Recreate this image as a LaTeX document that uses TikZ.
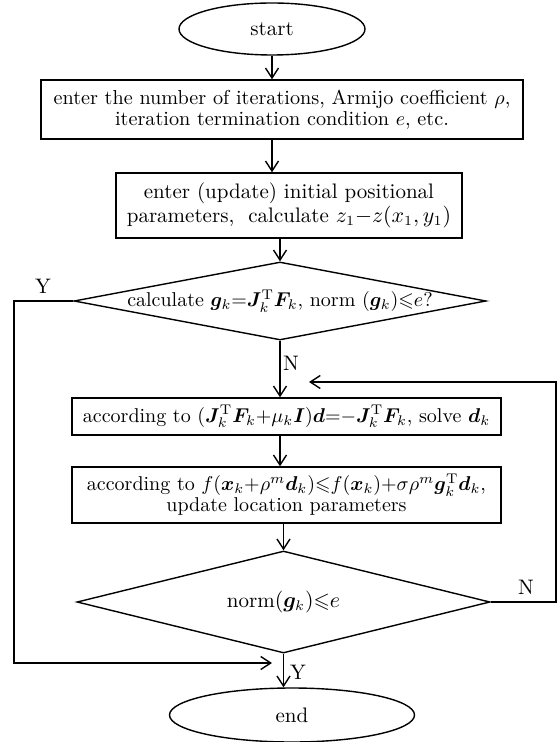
\documentclass[tikz,border=0pt]{standalone}
\usepackage{amsmath, amssymb, bm}
\usepackage{tikz}
\usetikzlibrary{shapes.geometric, arrows.meta}

\begin{document}
\begin{tikzpicture}[x=0.5pt, y=-0.5pt,
        every node/.style={font=\fontsize{10.5}{10.5}\selectfont, align=center, inner sep=0pt},
        mathtext/.style={font=\fontsize{10}{10.5}\selectfont},
        term/.style={ellipse, draw, line width=0.7pt},
        proc/.style={rectangle, draw, line width=0.7pt},
        test/.style={diamond, draw, line width=0.7pt, aspect=5.3, inner xsep=-4pt},
        arr/.style={line width=0.7pt, -{Straight Barb[length=5pt, width=6.5pt]}}]
                \useasboundingbox (0,0) rectangle (558,742);
                % terminals and steps
                \node[term, minimum width=93pt, minimum height=26pt] (start) at (272,29) {start};
                \node[proc, font=\fontsize{10.1}{10.5}\selectfont, minimum width=241pt, minimum height=29.5pt] (enter) at (282,109.5)
                    {enter the number of iterations, Armijo coefficient $\rho$,\\ iteration termination condition $e$, etc.};
                \node[proc, minimum width=173pt, minimum height=32.5pt] (init) at (289,205.5)
                    {enter (update) initial positional\\ parameters,\ \ calculate $z_1{-}z(x_1,y_1)$};
                \node[test, mathtext, minimum width=206pt, minimum height=39pt] (grad) at (280,301)
                    {calculate $\bm{g}_k{=}\bm{J}_k^{\mathrm{T}}\bm{F}_k$, norm $(\bm{g}_k){\leqslant}e$?};
                \node[proc, mathtext, minimum width=214.5pt, minimum height=18.5pt] (solve) at (286.5,416.5)
                    {according to $(\bm{J}_k^{\mathrm{T}}\bm{F}_k{+}\mu_k\bm{I})\bm{d}{=}{-}\bm{J}_k^{\mathrm{T}}\bm{F}_k$, solve $\bm{d}_k$};
                \node[proc, mathtext, minimum width=214.5pt, minimum height=28pt] (update) at (286.5,495)
                    {according to $f(\bm{x}_k{+}\rho^m\bm{d}_k){\leqslant}f(\bm{x}_k){+}\sigma\rho^m\bm{g}_k^{\mathrm{T}}\bm{d}_k$,\\ update location parameters};
                \node[test, minimum width=206.5pt, minimum height=51pt] (stop) at (283.5,602)
                    {norm$(\bm{g}_k){\leqslant}e$};
                \node[term, minimum width=122.5pt, minimum height=27pt] (end) at (292,715) {end};
                % branch labels
                \node (y1) at (43,286) {Y};
                \node (n1) at (291,363) {N};
                \node (n2) at (526,587) {N};
                \node (y2) at (298,672) {Y};
                \coordinate (yleft) at (14,663);
                \coordinate (yin) at (272,663);
                \coordinate (nright) at (556,382);
                \coordinate (nin) at (309,382);
                % main flow
                \draw[arr] (start.south) -- (start.south |- enter.north);
                \draw[arr] (start |- enter.south) -- (start |- init.north);
                \draw[arr] (grad |- init.south) -- (grad.north);
                \draw[arr] (grad.south) -- (grad.south |- solve.north);
                \draw[arr] (grad |- solve.south) -- (grad |- update.north);
                \draw[arr] (stop |- update.south) -- (stop.north);
                \draw[arr] (stop.south) -- (stop.south |- end.north);
                % loops
                \draw[arr] (grad.west) -| (yleft) -- (yin);
                \draw[arr] (stop.east) -| (nright) -- (nin);
            \end{tikzpicture}
\end{document}
